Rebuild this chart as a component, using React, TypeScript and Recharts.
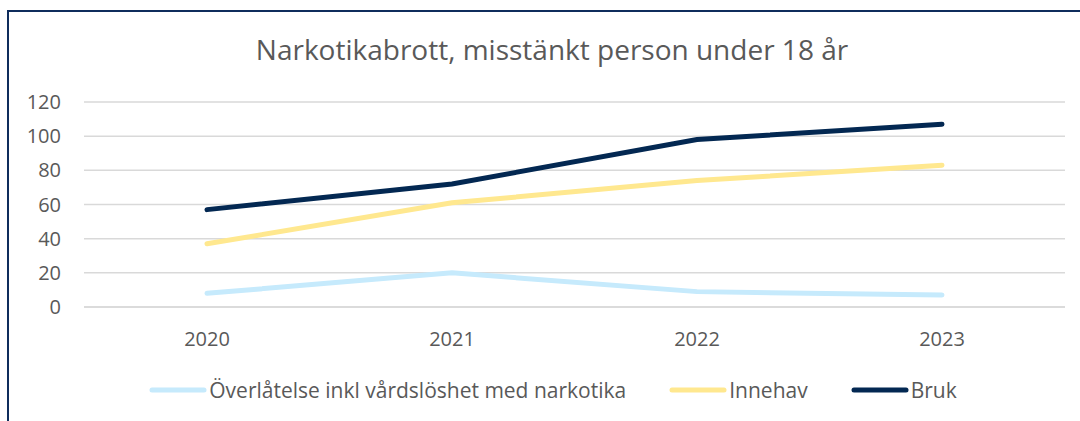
import { LineChart, Line, XAxis, YAxis, CartesianGrid, Legend } from 'recharts'

const years = ['2020', '2021', '2022', '2023']
const overlatelse = [8, 20, 9, 7]
const innehav = [37, 61, 74, 83]
const bruk = [57, 72, 98, 107]
const yTicks = [0, 20, 40, 60, 80, 100, 120]

const SERIES = [
  { key: 'overlatelse', name: 'Överlåtelse inkl vårdslöshet med narkotika', color: '#c6eafc' },
  { key: 'innehav', name: 'Innehav', color: '#ffe88f' },
  { key: 'bruk', name: 'Bruk', color: '#032852' },
]

const TEXT = '#595959'
const GRID = '#d9d9d9'
const FONT = '"Open Sans", sans-serif'

const data = years.map((year, i) => ({
  year,
  overlatelse: overlatelse[i],
  innehav: innehav[i],
  bruk: bruk[i],
}))

function LegendContent(): React.ReactElement {
  return (
    <div
      style={{
        height: 40,
        display: 'flex',
        justifyContent: 'center',
        alignItems: 'center',
        gap: 43,
        fontFamily: FONT,
        fontSize: 21,
        color: TEXT,
      }}
    >
      {SERIES.map((s) => (
        <div key={s.key} style={{ display: 'flex', alignItems: 'center' }}>
          <svg width={58} height={10} style={{ marginRight: 2 }}>
            <line x1={3} y1={5} x2={55} y2={5} stroke={s.color} strokeWidth={5} strokeLinecap="round" />
          </svg>
          <span>{s.name}</span>
        </div>
      ))}
    </div>
  )
}

export default function App(): React.ReactElement {
  return (
    <div
      style={{
        position: 'fixed',
        left: 7,
        top: 10,
        width: 1100,
        height: 430,
        border: '2px solid #0f2d5c',
        background: '#fff',
        fontFamily: FONT,
      }}
    >
      <div
        style={{
          position: 'absolute',
          top: 18,
          left: 0,
          width: 1086,
          textAlign: 'center',
          fontSize: 28,
          color: TEXT,
          whiteSpace: 'nowrap',
        }}
      >
        Narkotikabrott, misstänkt person under 18 år
      </div>
      <LineChart
        width={1090}
        height={415}
        data={data}
        margin={{ top: 90, right: 34, left: 0, bottom: 17 }}
      >
        <CartesianGrid vertical={false} stroke={GRID} strokeWidth={1.5} />
        <XAxis
          dataKey="year"
          tickLine={false}
          axisLine={{ stroke: GRID, strokeWidth: 1.5 }}
          tick={{ fill: TEXT, fontSize: 20 }}
          tickMargin={19}
          height={63}
          padding={{ left: 123, right: 123 }}
        />
        <YAxis
          domain={[0, 120]}
          ticks={yTicks}
          width={75}
          axisLine={false}
          tickLine={false}
          tick={{ fill: TEXT, fontSize: 20 }}
          tickMargin={17}
        />
        <Legend
          verticalAlign="bottom"
          content={<LegendContent />}
          wrapperStyle={{ left: 0, width: 1088 }}
        />
        {SERIES.map((s) => (
          <Line
            key={s.key}
            dataKey={s.key}
            name={s.name}
            stroke={s.color}
            strokeWidth={5}
            strokeLinecap="round"
            dot={false}
            activeDot={false}
            type="linear"
            isAnimationActive={false}
          />
        ))}
      </LineChart>
    </div>
  )
}
